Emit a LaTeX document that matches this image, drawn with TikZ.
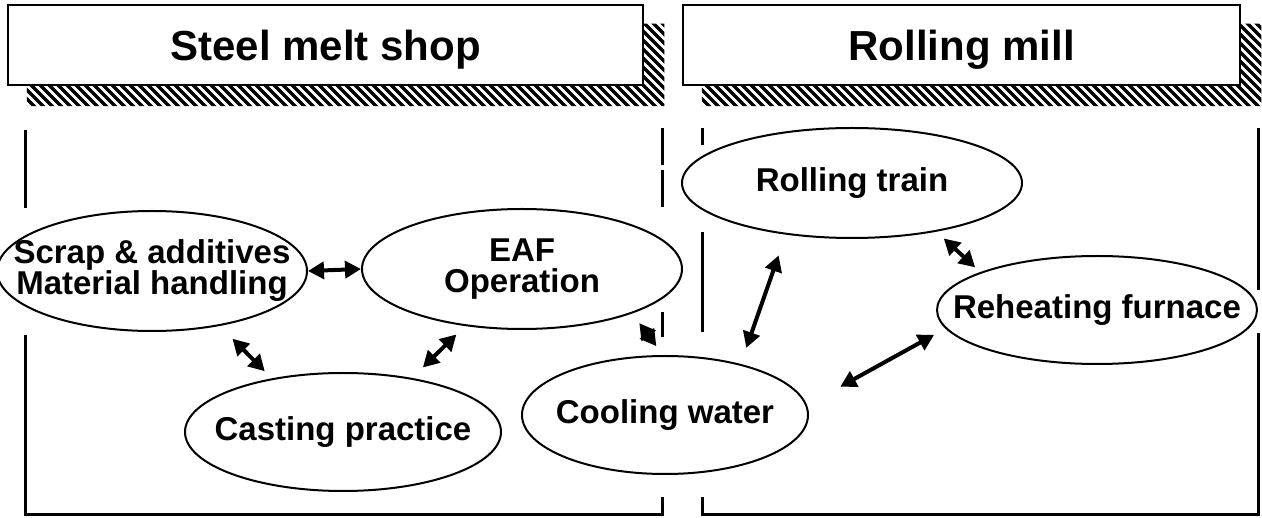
\documentclass[tikz,border=0pt]{standalone}
\usepackage{fontspec}
\setmainfont{Liberation Sans}
\usetikzlibrary{shapes.geometric,arrows.meta,backgrounds}

\begin{document}
\begin{tikzpicture}[x=1pt,y=-1pt,
	head/.style={rectangle,draw,fill=white,line width=2.5pt,inner sep=0pt,text depth=0pt,font=\fontsize{42}{48}\selectfont\bfseries},
	bub/.style={ellipse,draw,line width=2pt,inner sep=0pt},
	every label/.style={align=center,inner sep=0pt,font=\fontsize{33}{31}\selectfont\bfseries},
	hatchline/.style={line width=3.5pt},
	dbl/.style={{Triangle[length=16pt,width=17pt]}-{Triangle[length=16pt,width=17pt]},line width=4pt},
	frame/.style={line width=3pt}]
	\useasboundingbox (0,0) rectangle (1262,518);
	\node[head,minimum width=635pt,minimum height=80pt] (SMS) at (325.5,45) {Steel melt shop};
	\node[head,minimum width=557pt,minimum height=80pt] (RM) at (961.5,45) {Rolling mill};
	\begin{scope}[on background layer]
	\clip ([shift={(20,20)}]SMS.north west) rectangle ([shift={(20,20)}]SMS.south east)
	([shift={(20,20)}]RM.north west) rectangle ([shift={(20,20)}]RM.south east);
	\foreach \hx in {-90,-81,...,1270}
	\draw[hatchline] (\hx,0) -- ++(120,120);
	\end{scope}
	\draw[frame] (25,130) -- (25,208);
	\draw[frame] (25,335) -- (25,515) -- (662,515) -- (662,497);
	\draw[frame] (662,128) -- (662,165) (662,170) -- (662,207) (662,312) -- (662,337);
	\draw[frame] (702,128) -- (702,145) (702,232) -- (702,332);
	\draw[frame] (702,497) -- (702,515) -- (1258,515) -- (1258,333);
	\draw[frame] (1258,128) -- (1258,290);
	\node[bub,minimum width=310pt,minimum height=120pt,label={center:Scrap \& additives\\Material handling}] (scrap) at (152,271) {};
	\node[bub,minimum width=320pt,minimum height=120pt,label={center:EAF\\Operation}] (eaf) at (522,269) {};
	\node[bub,minimum width=316pt,minimum height=118pt,label={center:Casting practice}] (cast) at (343,432) {};
	\node[bub,minimum width=286pt,minimum height=118pt,label={center:Cooling water}] (cool) at (665,415) {};
	\node[bub,minimum width=340pt,minimum height=110pt,label={center:Rolling train}] (roll) at (852,183) {};
	\node[bub,minimum width=320pt,minimum height=108pt,label={center:Reheating furnace}] (reh) at (1097,310) {};
	\draw
	(scrap.east) edge[dbl] (eaf.west)
	(scrap.-39) edge[dbl,shorten <=18pt,shorten >=10pt] (cast.143)
	(eaf.225) edge[dbl,shorten <=12pt,shorten >=15pt] (cast.38)
	(eaf.-22) edge[dbl,shorten <=12pt,shorten >=11pt] (cool.92)
	(roll.218) edge[dbl,shorten <=22pt,shorten >=17pt] (cool.34)
	(roll.-30) edge[dbl,shorten <=10pt,shorten >=7pt] (reh.162)
	(cool.4) edge[dbl,shorten <=38pt,shorten >=13pt] (reh.187);
\end{tikzpicture}
\end{document}
